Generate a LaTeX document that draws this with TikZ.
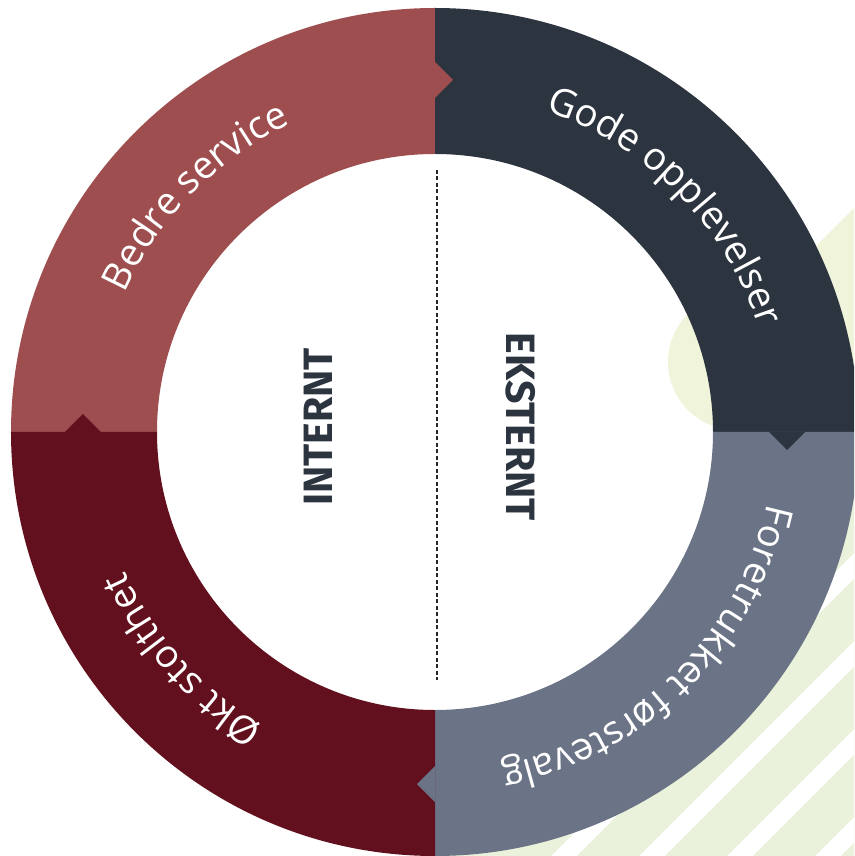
\documentclass[tikz,border=0pt]{standalone}
\usepackage{fontspec}
\newfontfamily\ringfont{Open Sans}
\newfontfamily\sidefont{Fira Sans}
\usepackage{tikz}
\usetikzlibrary{calc, decorations.text}

\definecolor{serviceRed}{HTML}{9E4E4F}
\definecolor{navyDark}{HTML}{2C3440}
\definecolor{slateGrey}{HTML}{6B7486}
\definecolor{wineRed}{HTML}{62101D}
\definecolor{paleGreen}{HTML}{F0F4DA}
\definecolor{stripeGreen}{HTML}{EAF2DC}

\newcommand{\ringsize}{\ringfont\fontsize{38.5}{44}\selectfont}

\tikzset{
	ringlabel/.style={decorate, decoration={text along path, text align=center, text color=white, text={#1}}},
	sidelabel/.style={font=\sidefont\bfseries\fontsize{41}{41}\selectfont, text=navyDark, inner sep=0pt},
	gapline/.style={white, line width=17.7pt}
}

\begin{document}
\begin{tikzpicture}[x=1pt, y=1pt]
					\def\rOut{424};
					\def\rIn{278};
					\def\rMid{352};
					\def\rText{340};
					\def\tip{18};

					\newcommand{\drawSector}[2]
					{
						\fill[#2] (#1:\rOut) arc[start angle=#1, end angle=#1-90, radius=\rOut] -- (#1-90:\rIn) arc[start angle=#1-90, end angle=#1, radius=\rIn] -- cycle
					}
					\newcommand{\drawHead}[2]
					{
						\fill[#2] (#1:\rMid-\tip) -- ($(#1:\rMid)+(#1-90:\tip)$) -- (#1:\rMid+\tip) -- cycle
					}

					\useasboundingbox (-435,-424) rectangle (419,432);
					\clip (-435,-424) rectangle (419,432);

					\begin{scope}
						\fill[paleGreen] (301,70) circle[radius=68];
						\fill[paleGreen] (285,90) -- (419,224) -- (419,-424) -- (285,-424) -- cycle;
						\fill[stripeGreen] (9,-424) -- (419,-14) -- (419,-424) -- cycle;
						\foreach \c in {553,641,729,817}
							\draw[gapline] ({\c/2-500},{-\c/2-500}) -- ({\c/2+500},{-\c/2+500});
					\end{scope}

					\begin{scope}
						\drawSector{180}{serviceRed};
						\drawSector{90}{navyDark};
						\drawSector{0}{slateGrey};
						\drawSector{-90}{wineRed};
						\drawHead{90}{serviceRed};
						\drawHead{0}{navyDark};
						\drawHead{-90}{slateGrey};
						\drawHead{180}{wineRed};
					\end{scope}

					\path[ringlabel={|\ringsize|Bedre service}] (180.5:\rText) arc[start angle=180.5, end angle=90.5, radius=\rText];
					\path[ringlabel={|\ringsize|Gode opplevelser}] (89.5:\rText) arc[start angle=89.5, end angle=-0.5, radius=\rText];
					\path[ringlabel={|\ringsize|Foretrukket førstevalg}] (-0.5:\rText) arc[start angle=-0.5, end angle=-90.5, radius=\rText];
					\path[ringlabel={|\ringsize|Økt stolthet}] (-93:\rText) arc[start angle=-93, end angle=-183, radius=\rText];

					\node[sidelabel, rotate=90] (internt) at (-117,5) {INTERNT};
					\node[sidelabel, rotate=-90] (eksternt) at (86,5) {EKSTERNT};

					\coordinate (dashTop) at (2,262);
					\coordinate (dashBottom) at (2,-248);
					\draw[dash pattern=on 4pt off 2.5pt, line width=1.6pt, black!85] (dashTop) -- (dashBottom);

				\end{tikzpicture}
\end{document}
